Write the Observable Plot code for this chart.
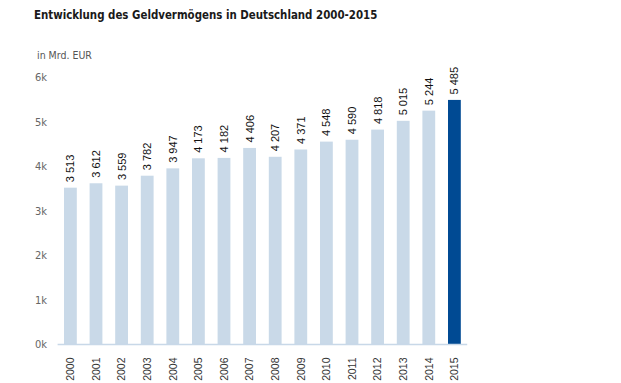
<!DOCTYPE html>
<html><head><meta charset="utf-8">
<script src="https://cdn.jsdelivr.net/npm/d3@7"></script>
<script src="https://cdn.jsdelivr.net/npm/@observablehq/plot@0.6"></script>
<style>
body{margin:0;background:#fff;width:621px;height:383px;position:relative;overflow:hidden;font-family:"Liberation Sans",sans-serif}
#title{position:absolute;left:34px;top:8px;font-family:"DejaVu Sans Condensed","DejaVu Sans",sans-serif;font-weight:bold;font-size:11.4px;color:#1a1a1a;white-space:nowrap}
#sub{position:absolute;left:37px;top:49px;font-family:"DejaVu Sans Condensed","DejaVu Sans",sans-serif;font-size:10.5px;color:#555;white-space:nowrap}
#chart{position:absolute;left:0;top:0}
</style></head><body>
<div id="title">Entwicklung des Geldvermögens in Deutschland 2000-2015</div>
<div id="sub">in Mrd. EUR</div>
<div id="chart"></div>
<script>
const years = ["2000","2001","2002","2003","2004","2005","2006","2007","2008","2009","2010","2011","2012","2013","2014","2015"];
const values = [3513,3612,3559,3782,3947,4173,4182,4406,4207,4371,4548,4590,4818,5015,5244,5485];
const yTicks = [0,1000,2000,3000,4000,5000,6000];
const highlightYear = "2015";

const data = years.map((y,i)=>({year:y,value:values[i]}));
const fmt = v => d3.format(",")(v).replace(/,/g," ");

const plot = Plot.plot({
  width:621, height:383,
  marginTop:77, marginBottom:39, marginLeft:57.6, marginRight:153.8,
  style:{fontFamily:"Liberation Sans, sans-serif", background:"transparent"},
  x:{domain:years, paddingInner:0.5, paddingOuter:0.25, round:false, label:null},
  y:{domain:[0,6000], label:null},
  marks:[
    Plot.barY(data,{x:"year",y:"value",fill:d=>d.year===highlightYear?"#004a93":"#c9d9e8"}),
    Plot.ruleY([0],{stroke:"#c8d8e8",strokeWidth:1.5}),
    Plot.axisY({ticks:yTicks,tickSize:0,tickPadding:11,tickFormat:d=>(d/1000)+"k",fill:"#666",fontSize:11,fontFamily:"DejaVu Sans Condensed, DejaVu Sans, sans-serif"}),
    Plot.axisX({tickSize:0,tickPadding:13,tickRotate:-90,fill:"#333",fontSize:10.5}),
    Plot.text(data,{x:"year",y:"value",text:d=>fmt(d.value),rotate:-90,textAnchor:"start",dy:-6,fill:"#111",fontSize:11})
  ]
});
document.getElementById("chart").appendChild(plot);
</script>
</body></html>
